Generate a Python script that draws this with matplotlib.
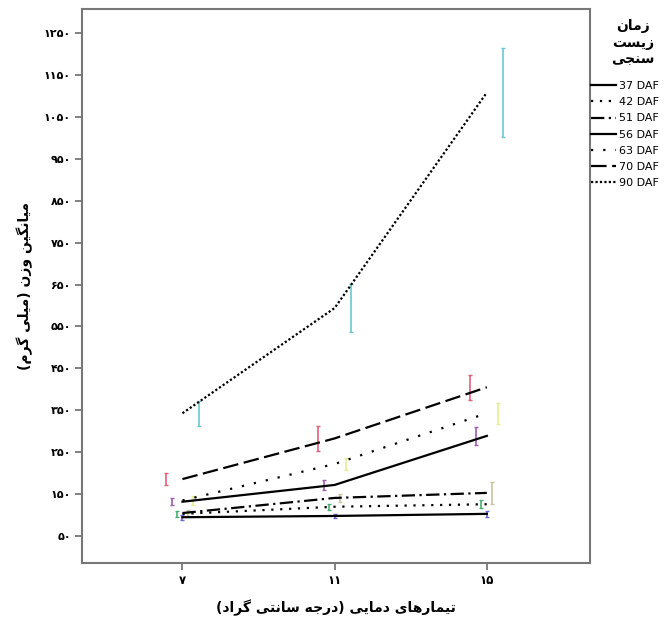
import matplotlib
matplotlib.use("Agg")
import matplotlib.pyplot as plt
import numpy as np

# temperature treatments (x) and sampling times (series)
temps = ["7", "11", "15"]
series_names = ["37 DAF", "42 DAF", "51 DAF", "56 DAF", "63 DAF", "70 DAF", "90 DAF"]

mean_37 = [95, 98, 103]
mean_42 = [103, 120, 126]
mean_51 = [105, 141, 153]
mean_56 = [132, 172, 289]
mean_63 = [135, 222, 343]
mean_70 = [186, 283, 405]
mean_90 = [343, 594, 1108]

err_37 = [6, 5, 7]
err_42 = [8, 7, 10]
err_51 = [8, 10, 27]
err_56 = [8, 12, 21]
err_63 = [10, 15, 25]
err_70 = [14, 30, 30]
err_90 = [30, 57, 107]

y_ticks = [50, 150, 250, 350, 450, 550, 650, 750, 850, 950, 1050, 1150, 1250]

# --- minimal Persian shaping (matplotlib has no bidi / shaping) ---
FORMS = {
    # char: (isolated, final, initial, medial); None => right-joining only
    "ا": ("\uFE8D", "\uFE8E", None, None),
    "د": ("\uFEA9", "\uFEAA", None, None),
    "ر": ("\uFEAD", "\uFEAE", None, None),
    "ز": ("\uFEAF", "\uFEB0", None, None),
    "و": ("\uFEED", "\uFEEE", None, None),
    "ب": ("\uFE8F", "\uFE90", "\uFE91", "\uFE92"),
    "ت": ("\uFE95", "\uFE96", "\uFE97", "\uFE98"),
    "ج": ("\uFE9D", "\uFE9E", "\uFE9F", "\uFEA0"),
    "س": ("\uFEB1", "\uFEB2", "\uFEB3", "\uFEB4"),
    "ل": ("\uFEDD", "\uFEDE", "\uFEDF", "\uFEE0"),
    "م": ("\uFEE1", "\uFEE2", "\uFEE3", "\uFEE4"),
    "ن": ("\uFEE5", "\uFEE6", "\uFEE7", "\uFEE8"),
    "ه": ("\uFEE9", "\uFEEA", "\uFEEB", "\uFEEC"),
    "گ": ("\uFB92", "\uFB93", "\uFB94", "\uFB95"),
    "ی": ("\uFBFC", "\uFBFD", "\uFBFE", "\uFBFF"),
}
MIRROR = {"(": ")", ")": "("}


def fa(text):
    out = []
    for i, ch in enumerate(text):
        if ch not in FORMS:
            out.append(ch)
            continue
        prev = text[i - 1] if i > 0 else ""
        nxt = text[i + 1] if i + 1 < len(text) else ""
        join_prev = prev in FORMS and FORMS[prev][2] is not None
        join_next = FORMS[ch][2] is not None and nxt in FORMS
        iso, fin, ini, med = FORMS[ch]
        if join_prev and join_next:
            out.append(med)
        elif join_prev:
            out.append(fin)
        elif join_next:
            out.append(ini)
        else:
            out.append(iso)
    return "".join(MIRROR.get(c, c) for c in reversed(out))


def fa_digits(n):
    return str(n).translate(str.maketrans("0123456789", "۰۱۲۳۴۵۶۷۸۹"))


means = [mean_37, mean_42, mean_51, mean_56, mean_63, mean_70, mean_90]
errs = [err_37, err_42, err_51, err_56, err_63, err_70, err_90]
styles = ["-", (0, (1, 3)), (0, (6, 2, 1, 2)), "-", (0, (1, 4.5)), (0, (7, 2.5)), (0, (1, 1))]
bar_colors = ["#6b6bd0", "#48b070", "#c9c3a0", "#9a5fb0", "#e8ec90", "#e0607a", "#6cc8cc"]
dodge = [0, -1, 1, -2, 2, -3, 3]

fig = plt.figure(figsize=(6.67, 6.22), dpi=100)
ax = fig.add_axes([0.123, 0.095, 0.762, 0.891])

x = np.arange(len(temps))
for name, m, e, ls, c, d in zip(series_names, means, errs, styles, bar_colors, dodge):
    ax.errorbar(x + d * 0.036, m, yerr=e, fmt="none", ecolor=c, elinewidth=1.2,
                capsize=1.5, capthick=1.0, zorder=2)
    ax.plot(x, m, color="black", linestyle=ls, linewidth=1.6, label=name, zorder=3)

ax.set_xlim(-0.66, 2.68)
ax.set_ylim(-14, 1308)
ax.set_xticks(x)
ax.set_xticklabels([fa_digits(t) for t in temps], fontsize=8.5, fontweight="bold")
ax.set_yticks(y_ticks)
ax.set_yticklabels([fa_digits(v) for v in y_ticks], fontsize=8, fontweight="bold")
ax.tick_params(axis="both", direction="out", length=5, width=1.3, color="#777777", pad=3)

for sp in ax.spines.values():
    sp.set_color("#777777")
    sp.set_linewidth(1.5)

ax.set_xlabel(fa("تیمارهای دمایی (درجه سانتی گراد)"), fontsize=10, fontweight="bold", labelpad=9)
ax.set_ylabel(fa("میانگین وزن (میلی گرم)"), fontsize=10, fontweight="bold", labelpad=8)

handles, labels = ax.get_legend_handles_labels()
fig.legend(handles, labels, loc="upper left", bbox_to_anchor=(0.879, 0.877), frameon=False,
           fontsize=8, handlelength=2.3, handletextpad=0.25, labelspacing=0.56,
           borderpad=0.4, borderaxespad=0.0)
fig.text(0.949, 1 - 43 / 622, "\n".join(fa(w) for w in ["زمان", "زیست", "سنجی"]),
         ha="center", va="center", fontsize=10, fontweight="bold", linespacing=1.3,
         multialignment="center")

fig.savefig("out.png", dpi=100)
